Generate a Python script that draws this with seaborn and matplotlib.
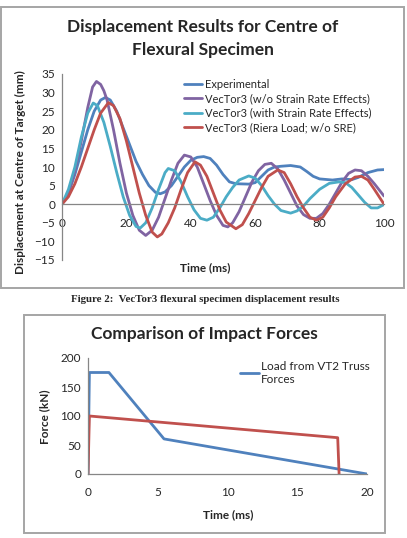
import pandas as pd
import matplotlib
matplotlib.use("Agg")
import matplotlib.pyplot as plt
import seaborn as sns
from matplotlib.patches import Rectangle

# Displacement results (time in ms, displacement in mm)
exp_t = [0, 2, 4, 6, 8, 10, 12, 13.5, 15, 17, 19, 21, 23, 25, 27, 29, 30.5, 32, 34, 36, 38, 40, 42, 44, 46, 48, 50,
         52, 54, 58, 60, 62, 64, 66, 68, 71, 74, 76, 78, 80, 84, 87, 90, 92, 95, 98, 100]
exp_d = [0, 3, 8, 14, 20, 25, 28, 28.7, 28, 25, 20.5, 16, 11.5, 8, 5, 3.2, 2.8, 3.3, 5, 7.5, 10, 11.8, 12.6, 12.8,
         12.3, 10.5, 8, 6, 5.5, 5.4, 5.8, 7.5, 9.2, 10, 10.2, 10.4, 10, 8.8, 7.5, 6.8, 6.5, 6.8, 6.6, 7.2, 8.5, 9.2, 9.3]

nosre_t = [0, 2, 4, 6, 8, 9.5, 10.7, 12, 13, 14, 16, 18, 20, 22, 24, 26, 28, 30, 32, 34, 36, 38, 40, 42, 44, 46, 48,
           50, 51.5, 53, 55, 57, 59, 61, 63, 65, 67, 69, 71, 73, 75, 77, 79, 81, 83, 85, 87, 89, 91, 93, 95, 97, 100]
nosre_d = [0, 3, 9, 17, 26, 31.5, 33, 32.2, 30.5, 28, 20, 11, 3, -3, -7, -8.4, -7, -3.5, 1.5, 6.5, 11, 13.2, 12.7,
           10, 5.5, 1, -3, -5.7, -6.1, -5, -2, 2, 6, 9, 10.7, 11, 9.5, 6.5, 3, -0.5, -2.8, -3.8, -3.8, -2.5, 0, 3, 6,
           8.3, 9.2, 9, 7.5, 5.5, 2.2]

sre_t = [0, 2, 4, 6, 8, 9.7, 11, 13, 15, 17, 19, 21, 23, 24.3, 26, 28, 30, 32, 33, 35, 37, 39, 41, 43, 45, 47, 49,
         51, 53, 55, 58, 60, 62, 64, 66, 68, 71, 73, 75, 77, 80, 83, 86, 88, 90, 92, 94, 96, 98, 100]
sre_d = [0, 4, 10, 18, 24.5, 27.2, 26.5, 22, 15.5, 8.5, 2, -3, -6, -6.4, -5, -1, 4, 8.5, 9.6, 9, 6, 2, -1.5, -3.8,
         -4.3, -3.5, -1, 2, 4.5, 6.5, 7.6, 7, 5, 2.3, 0, -1.7, -2.4, -1.8, -0.5, 1.5, 4, 5.6, 6, 5.8, 4.5, 2.5, 0.5,
         -1, -1, -0.1]

riera_t = [0, 2, 4, 6, 8, 10, 12, 14.4, 16, 18, 20, 22, 24, 26, 28, 29.6, 31, 33, 35, 37, 39, 41.3, 43, 45, 47, 49,
           51, 54, 56, 58, 60, 62, 64, 67, 69, 71, 73, 75, 77, 79, 81, 83, 85, 88, 91, 93, 95, 97, 100]
riera_d = [0, 2, 5.5, 10, 15, 20, 24.5, 27.3, 26.5, 23, 17, 10, 3, -3, -7.5, -8.8, -8, -5, -1, 4, 8.5, 11.4, 10.5,
           7.5, 3, -1.5, -4.8, -6.6, -5.5, -2.5, 1, 4.5, 7.5, 9.2, 8.5, 5.5, 2, -1, -3.5, -4.3, -3.5, -1, 2, 5.5,
           7.3, 7.5, 6.5, 4, 0]

disp_labels = ["Experimental", "VecTor3 (w/o Strain Rate Effects)",
               "VecTor3 (with Strain Rate Effects)", "VecTor3 (Riera Load; w/o SRE)"]

# Impact forces (time in ms, force in kN)
vt2_t = [0, 0.1, 1.5, 5.45, 20]
vt2_f = [0, 175, 175, 60.5, 0]
riera_ft = [0, 0.1, 17.9, 18.0]
riera_f = [0, 100, 62.6, 0]

BLUE, RED, PURPLE, CYAN = "#4F81BD", "#C0504D", "#8064A2", "#4BACC6"

sns.set_style("white")
plt.rcParams["font.family"] = ["Lato", "DejaVu Sans"]

W, H = 407, 538
fig = plt.figure(figsize=(W / 100, H / 100), dpi=100)


def fx(px):
    return px / W


def fy(py):
    return 1 - py / H


# chart frames
for (x0, y0, x1, y1) in [(1, 7, 404, 288), (24, 315, 385, 533)]:
    fig.add_artist(Rectangle((fx(x0), fy(y1)), fx(x1 - x0), (y1 - y0) / H, transform=fig.transFigure,
                             fill=False, edgecolor="#A5A5A5", lw=1.4))

# ---- top chart
ax1 = fig.add_axes([fx(62), fy(260), fx(384 - 62), (260 - 74) / H])
series = [(exp_t, exp_d, BLUE), (nosre_t, nosre_d, PURPLE), (sre_t, sre_d, CYAN), (riera_t, riera_d, RED)]
for (t, d, c), lab in zip(series, disp_labels):
    sns.lineplot(x=t, y=d, ax=ax1, color=c, lw=2.0, label=lab, sort=False, estimator=None)
ax1.set_xlim(0, 100)
ax1.set_ylim(-15, 35)
ax1.set_xticks(range(0, 101, 20))
ax1.set_yticks(range(-15, 36, 5))
for s in ["top", "right"]:
    ax1.spines[s].set_visible(False)
ax1.spines["bottom"].set_position(("data", 0))
for s in ["left", "bottom"]:
    ax1.spines[s].set_color("#868686")
    ax1.spines[s].set_linewidth(0.9)
ax1.tick_params(axis="both", which="major", direction="out", length=3, width=0.9, color="#868686",
                labelsize=8.5, pad=2)
ax1.tick_params(axis="x", pad=7)
ax1.set_xlabel("")
ax1.set_ylabel("")
ax1.legend(loc="upper left", bbox_to_anchor=(fx(184), fy(79)), bbox_transform=fig.transFigure,
           frameon=False, fontsize=8, handlelength=1.6, handletextpad=0.25, labelspacing=0.3,
           borderaxespad=0, borderpad=0)

fig.text(fx(203), fy(27), "Displacement Results for Centre of", ha="center", va="center", fontsize=12.5,
         fontweight="bold")
fig.text(fx(203), fy(50), "Flexural Specimen", ha="center", va="center", fontsize=12.5, fontweight="bold")
fig.text(fx(205), fy(268), "Time (ms)", ha="center", va="center", fontsize=8.5, fontweight="bold")
fig.text(fx(20), fy(172), "Displacement at Centre of Target (mm)", ha="center", va="center", rotation=90,
         fontsize=8.5, fontweight="bold")

fig.text(fx(205), fy(300), "Figure 2:  VecTor3 flexural specimen displacement results", ha="center",
         va="center", fontsize=7.8, fontweight="bold", family=["Liberation Serif", "DejaVu Serif"])

# ---- bottom chart
ax2 = fig.add_axes([fx(88), fy(474), fx(367 - 88), (474 - 358) / H])
sns.lineplot(x=vt2_t, y=vt2_f, ax=ax2, color=BLUE, lw=2.0, label="Load from VT2 Truss\nForces", sort=False,
             estimator=None)
sns.lineplot(x=riera_ft, y=riera_f, ax=ax2, color=RED, lw=2.0, sort=False, estimator=None)
ax2.set_xlim(0, 20)
ax2.set_ylim(0, 200)
ax2.set_xticks(range(0, 21, 5))
ax2.set_yticks(range(0, 201, 50))
for s in ["top", "right"]:
    ax2.spines[s].set_visible(False)
for s in ["left", "bottom"]:
    ax2.spines[s].set_color("#868686")
    ax2.spines[s].set_linewidth(0.9)
ax2.tick_params(axis="both", direction="out", length=3, width=0.9, color="#868686", labelsize=8.5, pad=2)
ax2.tick_params(axis="x", length=0, pad=9)
ax2.set_xlabel("")
ax2.set_ylabel("")
ax2.legend(loc="upper left", bbox_to_anchor=(fx(240), fy(361)), bbox_transform=fig.transFigure,
           frameon=False, fontsize=8.5, handlelength=1.6, handletextpad=0.2, borderaxespad=0, borderpad=0)

fig.text(fx(204), fy(334), "Comparison of Impact Forces", ha="center", va="center", fontsize=12.5,
         fontweight="bold")
fig.text(fx(228), fy(515), "Time (ms)", ha="center", va="center", fontsize=8.5, fontweight="bold")
fig.text(fx(45), fy(417), "Force (kN)", ha="center", va="center", rotation=90, fontsize=8.5, fontweight="bold")

fig.savefig("out.png", dpi=100)
